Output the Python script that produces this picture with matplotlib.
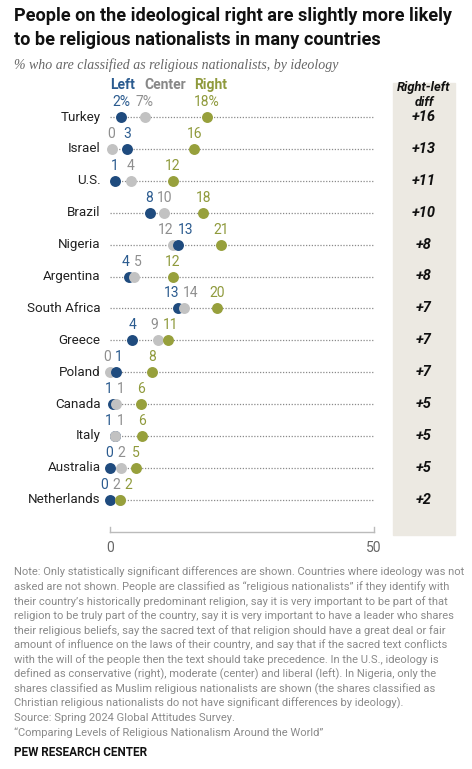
import matplotlib
matplotlib.use("Agg")
import matplotlib.pyplot as plt
from matplotlib.patches import Rectangle

#-----------
# DATA
#-----------
countries = ["Turkey", "Israel", "U.S.", "Brazil", "Nigeria", "Argentina",
             "South Africa", "Greece", "Poland", "Canada", "Italy",
             "Australia", "Netherlands"]
left = [2.1, 3.2, 0.9, 7.6, 12.9, 3.6, 12.9, 4.2, 1.1, 0.6, 0.9, 0.0, 0.0]
center = [6.6, 0.3, 3.9, 10.2, 12.0, 4.6, 14.0, 9.0, 0.0, 1.2, 1.0, 2.0, 1.8]
right = [18.4, 16.0, 11.9, 17.7, 21.0, 11.9, 20.2, 10.9, 8.0, 5.9, 6.0, 4.9, 1.8]
left_lbl = [2, 3, 1, 8, 13, 4, 13, 4, 1, 1, 1, 0, 0]
center_lbl = [7, 0, 4, 10, 12, 5, 14, 9, 0, 1, 1, 2, 2]
right_lbl = [18, 16, 12, 18, 21, 12, 20, 11, 8, 6, 6, 5, 2]
diffs = [16, 13, 11, 10, 8, 8, 7, 7, 7, 5, 5, 5, 2]
series_names = ["Left", "Center", "Right"]

note_lines = [
    "Note: Only statistically significant differences are shown. Countries where ideology was not",
    "asked are not shown. People are classified as \u201creligious nationalists\u201d if they identify with",
    "their country\u2019s historically predominant religion, say it is very important to be part of that",
    "religion to be truly part of the country, say it is very important to have a leader who shares",
    "their religious beliefs, say the sacred text of that religion should have a great deal or fair",
    "amount of influence on the laws of their country, and say that if the sacred text conflicts",
    "with the will of the people then the text should take precedence. In the U.S., ideology is",
    "defined as conservative (right), moderate (center) and liberal (left). In Nigeria, only the",
    "shares classified as Muslim religious nationalists are shown (the shares classified as",
    "Christian religious nationalists do not have significant differences by ideology).",
    "Source: Spring 2024 Global Attitudes Survey.",
    "\u201cComparing Levels of Religious Nationalism Around the World\u201d",
]

#-----------
# STYLE
#-----------
W, H = 472, 769
BLUE = "#1f4b7e"
BLUE_T = "#2b5b8f"
GRAY = "#c2c2c2"
GRAY_T = "#8f8f8f"
GREEN = "#97a03c"
GREEN_T = "#8f9a3c"
plt.rcParams["font.family"] = ["Roboto", "DejaVu Sans"]

dot_colors = [BLUE, GRAY, GREEN]
txt_colors = [BLUE_T, GRAY_T, GREEN_T]

fig = plt.figure(figsize=(W / 100, H / 100), dpi=100)

def fx(px):
    return px / W

def fy(py):
    return 1 - py / H

# diff column background
fig.patches.append(Rectangle((fx(393), fy(535)), 62 / W, 452 / H,
                             transform=fig.transFigure, color="#ece9e2",
                             zorder=0))

# axes: x in data units, y in pixels (top-down)
ax = fig.add_axes([fx(110), 0, 264 / W, 1])
ax.set_xlim(0, 50)
ax.set_ylim(H, 0)
ax.axis("off")

row0, step = 117, 31.9
rows = [row0 + i * step for i in range(len(countries))]

fig.canvas.draw()
renderer = fig.canvas.get_renderer()
px_per_unit = 264 / 50

for i, name in enumerate(countries):
    y = rows[i]
    ax.plot([0, 50], [y, y], color="#8a8a8a", lw=0.9,
            linestyle=(0, (1, 1.3)), zorder=1)
    ax.text(-1.8, y, name, ha="right", va="center", fontsize=9.6,
            color="#222222")
    vals = [left[i], center[i], right[i]]
    lbls = [left_lbl[i], center_lbl[i], right_lbl[i]]
    order = sorted(range(3), key=lambda k: vals[k])
    for z, k in enumerate(order):
        ax.scatter(vals[k], y, s=62, color=dot_colors[k], zorder=3 + z,
                   clip_on=False, linewidths=0)
    # labels above the dots, pushed apart when they collide
    texts = []
    for k in order:
        s = str(lbls[k]) + ("%" if i == 0 else "")
        t = ax.text(vals[k], y - 15, s, ha="center", va="center",
                    fontsize=10, color=txt_colors[k])
        texts.append([t, vals[k] * px_per_unit,
                      t.get_window_extent(renderer).width])
    for _ in range(20):
        for a, b in zip(texts[:-1], texts[1:]):
            need = (a[2] + b[2]) / 2 + 4
            gap = b[1] - a[1]
            if gap < need:
                a[1] -= (need - gap) / 2
                b[1] += (need - gap) / 2
    for t, cx, w in texts:
        t.set_x(cx / px_per_unit)
    fig.text(fx(424), fy(y), "+%d" % diffs[i], ha="center", va="center",
             fontsize=10.5, fontweight="bold", fontstyle="italic",
             color="#111111")

# axis
ax.plot([0, 50], [532, 532], color="#bbbbbb", lw=1, clip_on=False)
for v in (0, 50):
    ax.plot([v, v], [527, 532], color="#bbbbbb", lw=1, clip_on=False)
    ax.text(v, 548, str(v), ha="center", va="center", fontsize=10,
            color="#666666")

# legend
for name, xpos, c in zip(series_names, [110, 144, 194], txt_colors):
    fig.text(fx(xpos), fy(85), name, ha="left", va="center", fontsize=10,
             fontweight="bold", color=c if name != "Center" else "#888888")

fig.text(fx(424), fy(88), "Right-left", ha="center", va="center",
         fontsize=9.3, fontweight="bold", fontstyle="italic", color="#111111")
fig.text(fx(424), fy(102), "diff", ha="center", va="center",
         fontsize=9.3, fontweight="bold", fontstyle="italic", color="#111111")

# titles
fig.text(fx(14), fy(16), "People on the ideological right are slightly more likely",
         ha="left", va="center", fontsize=13.1, fontweight="bold", color="#111111")
fig.text(fx(14), fy(40), "to be religious nationalists in many countries",
         ha="left", va="center", fontsize=13.1, fontweight="bold", color="#111111")
fig.text(fx(14), fy(65), "% who are classified as religious nationalists, by ideology",
         ha="left", va="center", fontsize=10, fontstyle="italic",
         family=["Liberation Serif", "DejaVu Serif"], color="#666666")

# note
for j, line in enumerate(note_lines):
    fig.text(fx(14), fy(572 + j * 14.6), line, ha="left", va="center",
             fontsize=8.0, color="#8a8a8a")
fig.text(fx(14), fy(752), "PEW RESEARCH CENTER", ha="left", va="center",
         fontsize=8.5, fontweight="bold", color="#111111")

fig.savefig("out.png", dpi=100)
